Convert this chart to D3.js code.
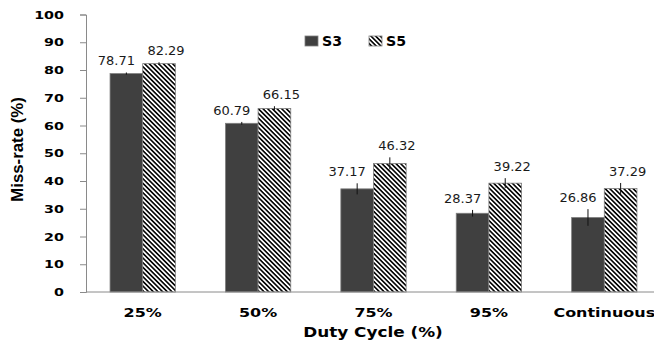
<!DOCTYPE html>
<html>
<head>
<meta charset="utf-8">
<script src="https://cdn.jsdelivr.net/npm/d3@7/dist/d3.min.js"></script>
<style>
  html, body { margin: 0; padding: 0; background: #fff; }
  svg { display: block; }
</style>
</head>
<body>
<svg id="chart" width="654" height="341"></svg>
<script>
// Miss-rate by duty cycle for two schemes
const categories = ["25%", "50%", "75%", "95%", "Continuous"];
const seriesNames = ["S3", "S5"];
const s3Values = [78.71, 60.79, 37.17, 28.37, 26.86];
const s5Values = [82.29, 66.15, 46.32, 39.22, 37.29];
const s3Errors = [0.4, 0.5, 2.0, 1.2, 3.0];
const s5Errors = [0.5, 0.8, 2.2, 1.8, 2.0];
const yTicks = [0, 10, 20, 30, 40, 50, 60, 70, 80, 90, 100];

const svg = d3.select("#chart");
const axisGrey = "#8a8a8a";
const darkFill = "#404040";

const x = d3.scaleBand().domain(categories).range([85, 662])
  .paddingInner(0.434).paddingOuter(0.217);
const xs = d3.scaleBand().domain(seriesNames).range([0, x.bandwidth()]);
const y = d3.scaleLinear().domain([0, 100]).range([292, 14.5]);

// hatch for S5: downward diagonal stripes (top-left to bottom-right)
const defs = svg.append("defs");
const pat = defs.append("pattern").attr("id", "hatch")
  .attr("patternUnits", "userSpaceOnUse")
  .attr("width", 3.3).attr("height", 3.3)
  .attr("patternTransform", "rotate(45)");
pat.append("rect").attr("width", 3.3).attr("height", 3.3).attr("fill", "#fff");
pat.append("rect").attr("x", 0).attr("y", 0).attr("width", 3.3).attr("height", 1.6).attr("fill", "#000");

const rows = categories.map((c, i) => ({
  cat: c,
  items: [
    { s: "S3", v: s3Values[i], e: s3Errors[i] },
    { s: "S5", v: s5Values[i], e: s5Errors[i] }
  ]
}));

// y axis
const yAxis = svg.append("g").attr("transform", "translate(86,0)")
  .call(d3.axisLeft(y).tickValues(yTicks).tickSize(6).tickFormat(""));
yAxis.select(".domain").attr("stroke", axisGrey);
yAxis.selectAll(".tick line").attr("stroke", axisGrey);

function stretchedText(g, tx, ty, sx, txt) {
  return g.append("text")
    .attr("transform", `translate(${tx},${ty}) scale(${sx},1)`)
    .text(txt);
}

const yLabels = svg.append("g")
  .attr("font-family", "DejaVu Sans, sans-serif")
  .attr("font-weight", "bold").attr("font-size", 11)
  .attr("text-anchor", "end").attr("fill", "#000");
yTicks.forEach(t => {
  stretchedText(yLabels, 64, y(t) + 4, 1.3, String(t));
});

// bars
const groups = svg.append("g").selectAll("g").data(rows).join("g")
  .attr("transform", d => `translate(${x(d.cat)},0)`);

groups.selectAll("rect").data(d => d.items).join("rect")
  .attr("x", d => xs(d.s))
  .attr("y", d => y(d.v))
  .attr("width", xs.bandwidth())
  .attr("height", d => y(0) - y(d.v))
  .attr("fill", d => d.s === "S3" ? darkFill : "url(#hatch)")
  .attr("stroke", "#7f7f7f").attr("stroke-width", 0.8);

// error bars
groups.selectAll("line.err").data(d => d.items).join("line")
  .attr("class", "err")
  .attr("x1", d => xs(d.s) + xs.bandwidth() / 2)
  .attr("x2", d => xs(d.s) + xs.bandwidth() / 2)
  .attr("y1", d => y(d.v + d.e))
  .attr("y2", d => y(d.v - d.e))
  .attr("stroke", "#111").attr("stroke-width", 1);

// value labels
groups.selectAll("text.val").data(d => d.items).join("text")
  .attr("class", "val")
  .attr("x", d => xs(d.s) + xs.bandwidth() / 2 + (d.s === "S3" ? -10 : 7))
  .attr("y", d => y(d.v + d.e) - 7)
  .attr("text-anchor", "middle")
  .attr("font-family", "DejaVu Sans, sans-serif")
  .attr("font-size", 13).attr("fill", "#1a1a1a")
  .text(d => d.v.toFixed(2));

// x axis
svg.append("line").attr("x1", 86).attr("x2", 654)
  .attr("y1", y(0)).attr("y2", y(0))
  .attr("stroke", axisGrey).attr("stroke-width", 1);

const xLabels = svg.append("g")
  .attr("font-family", "DejaVu Sans, sans-serif")
  .attr("font-weight", "bold").attr("font-size", 12.3)
  .attr("text-anchor", "middle").attr("fill", "#000");
categories.forEach(c => {
  stretchedText(xLabels, x(c) + x.bandwidth() / 2, 316.7, 1.3, c);
});

// axis titles
svg.append("text")
  .attr("transform", "translate(373,337) scale(1.25,1)")
  .attr("text-anchor", "middle")
  .attr("font-family", "DejaVu Sans, sans-serif")
  .attr("font-weight", "bold").attr("font-size", 13.5)
  .text("Duty Cycle (%)");

svg.append("text")
  .attr("transform", "translate(22.7,149.5) rotate(-90) scale(1.05,1)")
  .attr("text-anchor", "middle")
  .attr("font-family", "Liberation Sans, Arial, sans-serif")
  .attr("font-weight", "bold").attr("font-size", 16)
  .text("Miss-rate (%)");

// legend
const legend = svg.append("g")
  .attr("font-family", "DejaVu Sans, sans-serif")
  .attr("font-weight", "bold").attr("font-size", 13.5);
const legendX = [305, 369];
seriesNames.forEach((s, i) => {
  legend.append("rect")
    .attr("x", legendX[i]).attr("y", 36).attr("width", 13).attr("height", 10)
    .attr("fill", s === "S3" ? darkFill : "url(#hatch)")
    .attr("stroke", "#7f7f7f").attr("stroke-width", 0.8);
  legend.append("text")
    .attr("transform", `translate(${legendX[i] + 17},45.5) scale(1.05,1)`)
    .text(s);
});
</script>
</body>
</html>
